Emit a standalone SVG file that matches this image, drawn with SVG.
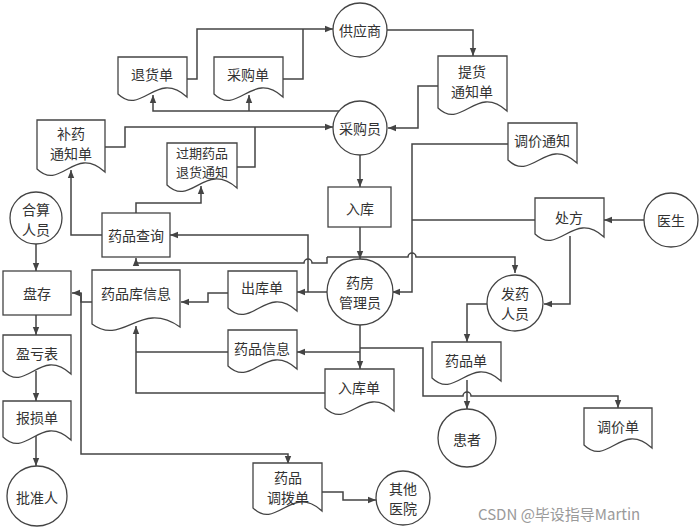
<svg xmlns="http://www.w3.org/2000/svg" width="699" height="532" viewBox="0 0 699 532">
<style>
.s{fill:#fff;stroke:#444;stroke-width:1.3}
.c{fill:none;stroke:#444;stroke-width:1.5;marker-end:url(#a)}
.n{fill:none;stroke:#444;stroke-width:1.5}
text{font-family:"Noto Sans CJK SC","Noto Sans",sans-serif;font-size:14px;fill:#333;text-anchor:middle;dominant-baseline:central}
.sm{font-size:13px}
.wm{font-size:15px;fill:#9a9a9a;text-anchor:start}
</style>
<defs>
<marker id="a" viewBox="0 0 10 10" refX="10" refY="5" markerWidth="8" markerHeight="8" markerUnits="userSpaceOnUse" orient="auto"><path d="M0,1 L10,5 L0,9 z" fill="#444"/></marker>
</defs>
<g id="connectors">
<path class="c" d="M187,79 H197 V29 H333"/>
<path class="n" d="M283,79 H303 V29"/>
<path class="c" d="M387,30 H473 V56"/>
<path class="c" d="M438,86 H418 V128 H388"/>
<path class="c" d="M339,111 H153 V95"/>
<path class="c" d="M249,111 V95"/>
<path class="c" d="M105,147 H125 V127 H333"/>
<path class="n" d="M237,167 H255 V127"/>
<path class="c" d="M360,155 V187"/>
<path class="c" d="M360,227 V259"/>
<path class="c" d="M327,292 H297"/>
<path class="c" d="M308,292 V235 H170"/>
<path class="c" d="M327,257 H408 a4,4 0 0 1 8,0 H515 V273"/>
<path class="c" d="M327,257 V263 H312 a4,4 0 0 0 -8,0 H136 V258"/>
<path class="c" d="M508,144 H412 V292 H392"/>
<path class="n" d="M535,220 H412"/>
<path class="c" d="M644,220 H604"/>
<path class="c" d="M570,236 V304 H544"/>
<path class="c" d="M487,304 H467 V342"/>
<path class="c" d="M467,380 V409"/>
<path class="c" d="M360,325 V369"/>
<path class="c" d="M360,352 H297"/>
<path class="c" d="M360,348 H423 V396 H463 a4,4 0 0 1 8,0 H618 V408"/>
<path class="n" d="M228,352 H136"/>
<path class="c" d="M325,393 H136 V326"/>
<path class="c" d="M228,293 H208 V302 H181"/>
<path class="c" d="M92,302 H81 V293 H72"/>
<path class="c" d="M81,293 V454 H288 V464"/>
<path class="c" d="M36,244 V271"/>
<path class="c" d="M36,315 V335"/>
<path class="c" d="M36,371 V401"/>
<path class="c" d="M36,436 V466"/>
<path class="c" d="M322,492 H343 V500 H376"/>
<path class="c" d="M102,235 H71 V170"/>
<path class="c" d="M136,213 V203 H201 V186"/>
</g>
<g id="n-supplier"><circle class="s" cx="360" cy="30" r="27"/><text x="360" y="30">供应商</text></g>
<g id="n-buyer"><circle class="s" cx="360" cy="128" r="27"/><text x="360" y="128">采购员</text></g>
<g id="n-doctor"><circle class="s" cx="671" cy="220" r="27"/><text x="671" y="220">医生</text></g>
<g id="n-dispenser"><circle class="s" cx="515" cy="303" r="28"/><text x="515" y="293">发药</text><text x="515" y="313">人员</text></g>
<g id="n-patient"><circle class="s" cx="467" cy="438" r="29"/><text x="467" y="439">患者</text></g>
<g id="n-manager"><circle class="s" cx="360" cy="292" r="33"/><text x="360" y="282">药房</text><text x="360" y="302">管理员</text></g>
<g id="n-accountant"><circle class="s" cx="36" cy="218" r="26"/><text x="36" y="209">合算</text><text x="36" y="229">人员</text></g>
<g id="n-approver"><circle class="s" cx="37" cy="496" r="30"/><text x="37" y="497">批准人</text></g>
<g id="n-hospital"><circle class="s" cx="403" cy="498" r="27"/><text x="403" y="488">其他</text><text x="403" y="508">医院</text></g>
<g id="n-instock"><rect class="s" x="328" y="187" width="63" height="40"/><text x="360" y="208">入库</text></g>
<g id="n-query"><rect class="s" x="102" y="213" width="68" height="44"/><text x="136" y="235">药品查询</text></g>
<g id="n-inventory"><rect class="s" x="3" y="271" width="68" height="44"/><text x="37" y="293">盘存</text></g>
<g id="n-return"><path class="s" d="M118,57 H187 V97 C156,69 142,117 118,94 Z"/><text x="152" y="74">退货单</text></g>
<g id="n-purchase"><path class="s" d="M214,57 H283 V97 C252,69 238,117 214,94 Z"/><text x="248" y="74">采购单</text></g>
<g id="n-pickup"><path class="s" d="M438,56 H507 V111 C476,83 462,131 438,108 Z"/><text x="472" y="71">提货</text><text x="472" y="91">通知单</text></g>
<g id="n-replenish"><path class="s" d="M37,120 H105 V172 C74,144 61,192 37,169 Z"/><text x="71" y="133">补药</text><text x="71" y="153">通知单</text></g>
<g id="n-expired"><path class="s" d="M167,143 H237 V188 C205,160 191,208 167,185 Z"/><text class="sm" x="202" y="152">过期药品</text><text class="sm" x="202" y="171">退货通知</text></g>
<g id="n-pricenotice"><path class="s" d="M508,123 H577 V163 C546,135 532,183 508,160 Z"/><text x="542" y="140">调价通知</text></g>
<g id="n-prescription"><path class="s" d="M535,198 H604 V237 C573,209 559,257 535,234 Z"/><text x="569" y="217">处方</text></g>
<g id="n-stockinfo"><path class="s" d="M92,270 H180 V327 C140,299 123,347 92,324 Z"/><text x="136" y="293">药品库信息</text></g>
<g id="n-outbill"><path class="s" d="M228,271 H297 V311 C266,283 252,331 228,308 Z"/><text x="262" y="287">出库单</text></g>
<g id="n-druginfo"><path class="s" d="M228,330 H297 V369 C266,341 252,389 228,366 Z"/><text x="262" y="348">药品信息</text></g>
<g id="n-inbill"><path class="s" d="M325,369 H394 V411 C363,383 349,431 325,408 Z"/><text x="359" y="387">入库单</text></g>
<g id="n-drugbill"><path class="s" d="M432,342 H501 V381 C470,353 456,401 432,378 Z"/><text x="466" y="360">药品单</text></g>
<g id="n-pricebill"><path class="s" d="M584,408 H652 V448 C621,420 608,468 584,445 Z"/><text x="618" y="426">调价单</text></g>
<g id="n-transfer"><path class="s" d="M253,463 H322 V511 C291,483 277,531 253,508 Z"/><text x="288" y="477">药品</text><text x="288" y="497">调拨单</text></g>
<g id="n-profit"><path class="s" d="M3,335 H71 V374 C40,346 27,394 3,371 Z"/><text x="37" y="353">盈亏表</text></g>
<g id="n-loss"><path class="s" d="M3,401 H71 V440 C40,412 27,460 3,437 Z"/><text x="37" y="417">报损单</text></g>
<text class="wm" x="478" y="513">CSDN @毕设指导Martin</text>
</svg>
